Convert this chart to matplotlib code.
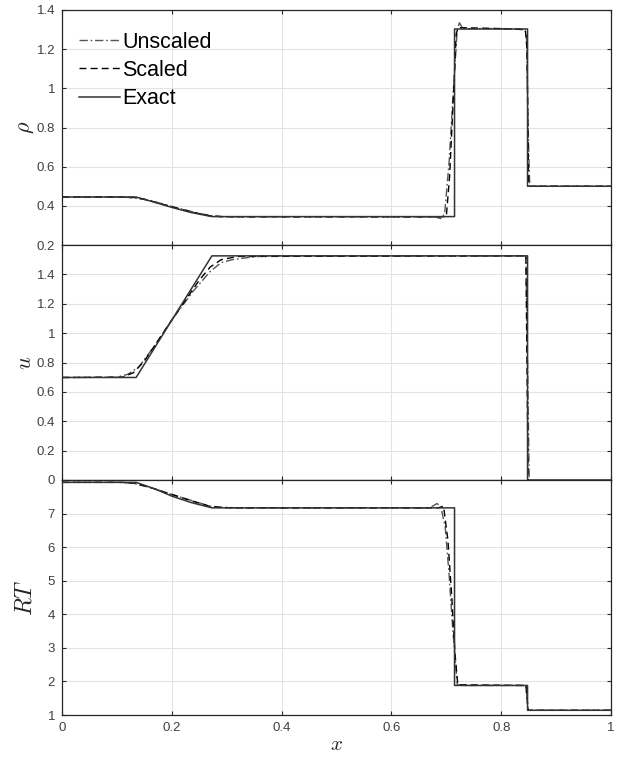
import numpy as np
from matplotlib import pyplot as plt

plt.rcParams['font.family'] = ['Liberation Sans', 'DejaVu Sans']
plt.rcParams['mathtext.fontset'] = 'cm'

# exact solution
x_exact = [0.0, 0.135, 0.17, 0.2, 0.235, 0.273, 0.715, 0.715, 0.848, 0.848, 1.0]
rho_exact = [0.445, 0.445, 0.417, 0.392, 0.366, 0.345, 0.345, 1.303, 1.303, 0.5, 0.5]
u_exact = [0.698, 0.698, 0.908, 1.088, 1.298, 1.526, 1.526, 1.526, 1.526, 0.0, 0.0]
rt_exact = [7.93, 7.93, 7.73, 7.52, 7.33, 7.17, 7.17, 1.88, 1.88, 1.14, 1.14]

# unscaled scheme
x_uns_rho = [0.0, 0.10, 0.12, 0.14, 0.16, 0.2, 0.24, 0.27, 0.29, 0.32, 0.5, 0.68, 0.69, 0.697,
             0.705, 0.712, 0.72, 0.724, 0.73, 0.8, 0.843, 0.846, 0.849, 0.852, 1.0]
rho_uns = [0.445, 0.445, 0.443, 0.437, 0.428, 0.397, 0.368, 0.350, 0.345, 0.344, 0.344, 0.343,
           0.335, 0.36, 0.62, 0.95, 1.30, 1.335, 1.305, 1.305, 1.30, 1.27, 0.8, 0.5, 0.5]
x_uns_u = [0.0, 0.10, 0.12, 0.14, 0.17, 0.2, 0.24, 0.27, 0.29, 0.31, 0.34, 0.37, 0.845, 0.848, 0.851]
u_uns = [0.698, 0.70, 0.72, 0.77, 0.92, 1.09, 1.29, 1.42, 1.48, 1.50, 1.515, 1.526, 1.526, 0.8, 0.0]
x_uns_rt = [0.0, 0.10, 0.13, 0.16, 0.2, 0.24, 0.27, 0.30, 0.33, 0.67, 0.683, 0.69, 0.698,
            0.705, 0.712, 0.72, 0.73, 0.845, 0.849, 1.0]
rt_uns = [7.93, 7.93, 7.90, 7.78, 7.57, 7.37, 7.22, 7.18, 7.17, 7.17, 7.30, 7.2, 6.6,
          5.2, 3.5, 1.9, 1.88, 1.88, 1.14, 1.14]

# scaled scheme
x_sc_rho = [0.0, 0.11, 0.13, 0.15, 0.2, 0.24, 0.27, 0.29, 0.31, 0.69, 0.70, 0.706, 0.712,
            0.718, 0.722, 0.8, 0.844, 0.847, 0.850, 1.0]
rho_sc = [0.445, 0.445, 0.443, 0.434, 0.395, 0.366, 0.349, 0.345, 0.344, 0.344, 0.345, 0.55,
          0.9, 1.28, 1.31, 1.305, 1.30, 1.2, 0.5, 0.5]
x_sc_u = [0.0, 0.11, 0.13, 0.15, 0.2, 0.25, 0.27, 0.29, 0.32, 0.845, 0.849]
u_sc = [0.698, 0.70, 0.73, 0.81, 1.09, 1.36, 1.45, 1.50, 1.522, 1.526, 0.0]
x_sc_rt = [0.0, 0.11, 0.13, 0.16, 0.2, 0.24, 0.27, 0.29, 0.32, 0.685, 0.695, 0.703, 0.71,
           0.716, 0.721, 0.845, 0.849, 1.0]
rt_sc = [7.93, 7.93, 7.91, 7.78, 7.57, 7.36, 7.21, 7.18, 7.17, 7.17, 7.22, 6.2, 4.5,
         2.8, 1.9, 1.88, 1.14, 1.14]

panels = [
    (r'$\rho$', rho_uns, x_uns_rho, rho_sc, x_sc_rho, rho_exact, (0.2, 1.4), np.arange(0.2, 1.41, 0.2), 16),
    (r'$u$', u_uns, x_uns_u, u_sc, x_sc_u, u_exact, (0.0, 1.6), np.arange(0.0, 1.41, 0.2), 16),
    (r'$RT$', rt_uns, x_uns_rt, rt_sc, x_sc_rt, rt_exact, (1.0, 8.0), np.arange(1, 8), 17),
]

fig = plt.figure(figsize=(6.33, 7.6), dpi=100)
left, width, height = 62 / 633, 549 / 633, 235 / 760
bottoms = [1 - 245 / 760, 1 - 480 / 760, 1 - 715 / 760]
txt = '#404040'

axes = []
for (lab, yu, xu, ys, xs, ye, ylim, yticks, fs), b in zip(panels, bottoms):
    ax = fig.add_axes([left, b, width, height])
    ax.plot(xu, yu, color='#555555', linestyle=(0, (6, 2, 1.2, 2)), linewidth=1.0, label='Unscaled')
    ax.plot(xs, ys, color='black', linestyle=(0, (5, 3)), linewidth=1.0, label='Scaled')
    ax.plot(x_exact, ye, color='#333333', linestyle='-', linewidth=1.1, label='Exact')
    ax.set_xlim(0, 1)
    ax.set_ylim(*ylim)
    ax.set_yticks(yticks)
    ax.set_yticklabels(['{:g}'.format(round(t, 1)) for t in yticks])
    ax.set_xticks(np.arange(0, 1.01, 0.2))
    ax.grid(True, color='#e3e3e3', linewidth=0.8)
    ax.set_axisbelow(True)
    ax.tick_params(direction='in', top=True, right=True, length=3, width=0.8,
                   labelsize=9.5, colors='#262626', labelcolor=txt, pad=5)
    for sp in ax.spines.values():
        sp.set_color('#262626')
        sp.set_linewidth(0.9)
    ax.set_ylabel(lab, fontsize=fs, color='#262626')
    ax.yaxis.set_label_coords(-0.047, 0.5)
    axes.append(ax)

for ax in axes[:-1]:
    ax.set_xticklabels([])
axes[-1].set_xticklabels(['0', '0.2', '0.4', '0.6', '0.8', '1'])
axes[-1].set_xlabel(r'$x$', fontsize=15, color='#262626', labelpad=1)

axes[0].legend(loc='upper left', frameon=False, fontsize=15.5, handlelength=1.9,
               handletextpad=0.1, labelspacing=0.33, borderaxespad=0.4,
               bbox_to_anchor=(0.0, 0.98))

fig.savefig('out.png', dpi=100)
